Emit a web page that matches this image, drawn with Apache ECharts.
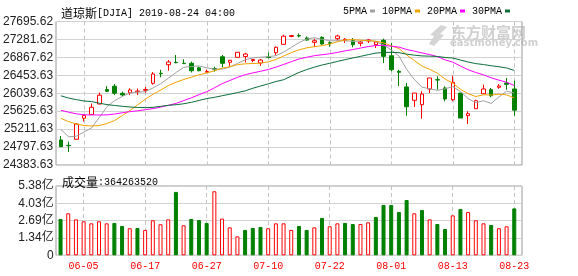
<!DOCTYPE html>
<html><head><meta charset="utf-8">
<script src="https://cdn.jsdelivr.net/npm/echarts@6/dist/echarts.min.js"></script>
<style>html,body{margin:0;padding:0;background:#fff}#c{width:578px;height:276px}</style>
</head><body><div id="c"></div>
<script>
const dates = ['05-31','06-03','06-04','06-05','06-06','06-07','06-10','06-11','06-12','06-13','06-14','06-17','06-18','06-19','06-20','06-21','06-24','06-25','06-26','06-27','06-28','07-01','07-02','07-03','07-05','07-08','07-09','07-10','07-11','07-12','07-15','07-16','07-17','07-18','07-19','07-22','07-23','07-24','07-25','07-26','07-29','07-30','07-31','08-01','08-02','08-05','08-06','08-07','08-08','08-09','08-12','08-13','08-14','08-15','08-16','08-19','08-20','08-21','08-22','08-23'];
const open = [24961,24838,24977,25464,25549,25791,26126,26202,26038,26052,26073,26108,26269,26500,26698,26754,26731,26731,26627,26525,26611,26881,26754,26869,26888,26795,26738,26876,26975,27169,27349,27370,27315,27215,27331,27206,27299,27262,27252,27192,27245,27160,27262,26906,26546,26184,25877,25775,26138,26352,26161,25891,26045,25522,25683,26029,26122,26177,26276,26138];
const close = [24806,24829,25330,25526,25715,25995,26085,26041,26000,26115,26091,26126,26484,26491,26761,26745,26724,26560,26560,26542,26595,26731,26800,26985,26945,26818,26807,26865,27100,27356,27370,27361,27268,27252,27176,27192,27361,27285,27160,27222,27269,27222,26892,26583,26523,25729,26045,26022,26392,26345,25907,26292,25468,25568,25868,26138,25983,26207,26246,25650];
const low = [24799,24684,24972,25388,25538,25785,26075,26000,25976,25999,25999,26045,26237,26408,26560,26731,26715,26518,26546,26518,26537,26639,26657,26865,26749,26754,26669,26846,26922,27165,27331,27331,27252,27107,27160,27114,27252,27199,27100,27123,27199,27084,26738,26546,26207,25521,25722,25452,26045,26122,25854,25854,25468,25330,25683,26022,25946,26144,26122,25521];
const high = [25053,24926,25346,25554,25803,26057,26202,26253,26080,26154,26149,26184,26530,26583,26807,26922,26823,26772,26652,26588,26652,26922,26807,26987,26973,26825,26830,26980,27119,27391,27377,27419,27349,27299,27354,27239,27391,27315,27315,27252,27292,27239,27299,27199,26583,26276,26045,26085,26392,26431,26200,26445,26045,25623,25891,26237,26161,26253,26392,26329];
const volume = [2.82e8,3.26e8,2.79e8,2.64e8,2.48e8,2.64e8,2.48e8,2.51e8,2.28e8,2.10e8,2.12e8,1.97e8,2.72e8,2.41e8,2.79e8,4.92e8,2.33e8,2.82e8,2.74e8,2.51e8,4.97e8,2.85e8,2.17e8,1.47e8,1.97e8,2.12e8,2.20e8,2.10e8,2.48e8,2.48e8,1.97e8,2.28e8,1.97e8,2.17e8,2.90e8,2.25e8,2.48e8,2.51e8,2.43e8,2.43e8,2.56e8,2.98e8,3.91e8,3.91e8,3.36e8,4.29e8,3.26e8,3.52e8,2.79e8,2.43e8,2.04e8,3.10e8,3.60e8,3.36e8,2.72e8,2.48e8,2.35e8,2.10e8,2.25e8,364263520];
const volumeUp = [0,1,1,1,1,1,1,0,0,1, 0,1,1,1,1,0,1,0,0,0, 1,1,1,1,0,0,0,1,1,1, 1,0,0,1,0,1,1,0,0,1, 1,0,0,0,0,0,1,0,1,0, 0,1,0,1,1,1,0,1,1,0];
const ma5 = [25208,25035,25048,25145,25241,25479,25730,25872,25967,26047,26066,26075,26163,26261,26391,26521,26641,26656,26670,26626,26596,26598,26646,26731,26811,26856,26871,26884,26907,26989,27100,27210,27291,27321,27285,27250,27250,27253,27235,27244,27259,27232,27153,27038,26898,26590,26354,26180,26142,26107,26142,26192,26081,25916,25821,25867,25805,25953,26088,26045];
const ma10 = [25461,25385,25330,25295,25284,25295,25341,25411,25526,25644,25773,25903,26018,26114,26219,26294,26358,26410,26466,26509,26559,26620,26651,26701,26719,26726,26735,26765,26819,26900,26978,27041,27088,27114,27137,27175,27230,27272,27278,27265,27255,27241,27203,27137,27071,26925,26793,26667,26590,26503,26366,26273,26131,26029,25964,26005,25999,26017,26002,25933];
const ma20 = [25646,25602,25565,25542,25538,25538,25540,25560,25590,25615,25635,25660,25686,25720,25762,25805,25872,25935,26010,26077,26166,26262,26335,26408,26469,26510,26547,26588,26643,26705,26769,26831,26870,26908,26928,26951,26983,27019,27049,27083,27117,27141,27146,27126,27104,27050,27012,26970,26934,26884,26811,26757,26667,26583,26518,26465,26396,26342,26296,26218];
const ma30 = [25981,25928,25893,25861,25847,25810,25778,25757,25738,25722,25711,25708,25715,25738,25761,25775,25798,25831,25875,25918,25946,25983,26018,26055,26096,26156,26207,26258,26311,26353,26437,26521,26586,26643,26692,26732,26774,26816,26854,26891,26931,26967,26981,26984,26976,26942,26919,26901,26896,26889,26866,26852,26807,26760,26724,26702,26674,26652,26623,26567];
const priceTicks = [24383.63,24797.63,25211.63,25625.63,26039.63,26453.63,26867.62,27281.62,27695.62];
const volumeTicks = [0,1.345e8,2.69e8,4.035e8,5.38e8];
const volumeTickLabels = ['0','1.34亿','2.69亿','4.03亿','5.38亿'];
const maNames = ['5PMA','10PMA','20PMA','30PMA'];
const maColors = ['#a0a0a0','#f5a300','#ff00ff','#0b6e3a'];

const RED = '#ff0000', GREEN = '#008000';
const labelEvery = (i) => (i - 3) % 8 === 0;
const MONO = 'Liberation Mono';
const SANS = 'Liberation Sans, Arial, Noto Sans CJK SC';

const chart = echarts.init(document.getElementById('c'), null, {renderer:'canvas'});
const dataGridLeft = 56.7, dataGridWidth = 461.4;
const mainTop = 21.5, mainH = 143.5, volTop = 186, volH = 69.3;

const maSeries = [ma5, ma10, ma20, ma30].map((d, k) => ({
  type:'line', name: maNames[k], data: d, xAxisIndex:0, yAxisIndex:0,
  symbol:'none', showSymbol:false, z:4,
  lineStyle:{width:1, color: maColors[k]}, itemStyle:{color: maColors[k]}
}));

const dashed = {show:true, interval: labelEvery, alignWithLabel:true, lineStyle:{color:'#c4c4c4', type:[4,3], width:1}};
const richText = {
  fontWeight:'normal',
  rich:{
    a:{fontFamily:'Noto Sans CJK SC', fontSize:12, fontWeight:'normal', color:'#000'},
    b:{fontFamily:MONO, fontSize:10, fontWeight:'normal', color:'#000'}
  }
};

chart.setOption({
  animation:false,
  backgroundColor:'#fff',
  title:[{
    left:56, top:2,
    text:'{a|道琼斯}{b|[DJIA] 2019-08-24 04:00}',
    textStyle:richText
  },{
    left:57, top:171,
    text:'{a|成交量}{b|:' + volume[volume.length-1] + '}',
    textStyle:richText
  }],
  legend:{
    data: maNames, left:338, top:1, align:'right', icon:'rect',
    itemWidth:5, itemHeight:3, itemGap:7,
    textStyle:{fontFamily:MONO, fontSize:10, color:'#000', padding:[0,-2,0,0]}
  },
  graphic:[
    {type:'polygon', z:-1, silent:true, shape:{points:[[441,25],[447,27],[440,34],[444,35],[434,46],[429,44],[434,36],[430,35]]}, style:{fill:'#d4d4d4'}},
    {type:'text', z:-1, silent:true, left:451, top:25, style:{text:'东方财富网', font:'bold 15px "Noto Sans CJK SC"', fill:'#d0d0d0'}},
    {type:'text', z:-1, silent:true, left:450, top:38, style:{text:'eastmoney.com', font:'bold 10px "DejaVu Sans"', fill:'#d0d0d0'}}
  ],
  grid:[
    {left:dataGridLeft, top:mainTop, width:dataGridWidth, height:mainH, show:false},
    {left:56, top:mainTop, width:466, height:mainH, show:true, borderColor:'#999', borderWidth:1, backgroundColor:'transparent'},
    {left:dataGridLeft, top:volTop, width:dataGridWidth, height:volH, show:false},
    {left:56, top:volTop, width:466, height:volH, show:true, borderColor:'#999', borderWidth:1, backgroundColor:'transparent'}
  ],
  xAxis:[
    {gridIndex:0, type:'category', data:dates, boundaryGap:true, axisLine:{show:false}, axisTick:{show:false}, axisLabel:{show:false}, splitLine:dashed},
    {gridIndex:1, type:'value', min:0, max:1, show:false},
    {gridIndex:2, type:'category', data:dates, boundaryGap:true, axisLine:{show:false}, axisTick:{show:false},
      axisLabel:{show:true, interval: labelEvery, color:RED, fontFamily:MONO, fontSize:10, margin:6}, splitLine:dashed},
    {gridIndex:3, type:'value', min:0, max:1, show:false}
  ],
  yAxis:[
    {gridIndex:0, type:'value', min:priceTicks[0], max:priceTicks[priceTicks.length-1], axisLine:{show:false},
      axisTick:{show:false, customValues:priceTicks}, splitLine:{show:false},
      axisLabel:{customValues:priceTicks, formatter:(v)=>v.toFixed(2), color:'#222', fontFamily:SANS, fontSize:12, margin:4}},
    {gridIndex:1, type:'value', min:priceTicks[0], max:priceTicks[priceTicks.length-1], axisLine:{show:false},
      axisTick:{show:false, customValues:priceTicks}, axisLabel:{show:false},
      splitLine:{show:true, lineStyle:{color:'#d2d2d2', width:1}}},
    {gridIndex:2, type:'value', min:0, max:volumeTicks[volumeTicks.length-1], axisLine:{show:false},
      axisTick:{show:false, customValues:volumeTicks}, splitLine:{show:false},
      axisLabel:{customValues:volumeTicks, formatter:(v)=>{let k=0,b=Infinity;volumeTicks.forEach((t,j)=>{if(Math.abs(t-v)<b){b=Math.abs(t-v);k=j;}});return volumeTickLabels[k];},
        color:'#222', fontFamily:SANS, fontSize:12, margin:3}},
    {gridIndex:3, type:'value', min:0, max:volumeTicks[volumeTicks.length-1], axisLine:{show:false},
      axisTick:{show:false, customValues:volumeTicks}, axisLabel:{show:false},
      splitLine:{show:true, lineStyle:{color:'#d2d2d2', width:1}}}
  ],
  series:[
    {type:'candlestick', xAxisIndex:0, yAxisIndex:0, barWidth:4, z:3,
      data: dates.map((d,i)=>[open[i], close[i], low[i], high[i]]),
      itemStyle:{color:'#ffffff', color0:GREEN, borderColor:RED, borderColor0:GREEN, borderWidth:1}},
    ...maSeries,
    {type:'bar', xAxisIndex:2, yAxisIndex:2, barWidth:4,
      data: volume.map((v,i)=>({value:v, itemStyle: volumeUp[i] ? {color:'#ffffff', borderColor:RED, borderWidth:1} : {color:GREEN, borderColor:GREEN, borderWidth:1}}))}
  ]
});
</script></body></html>
